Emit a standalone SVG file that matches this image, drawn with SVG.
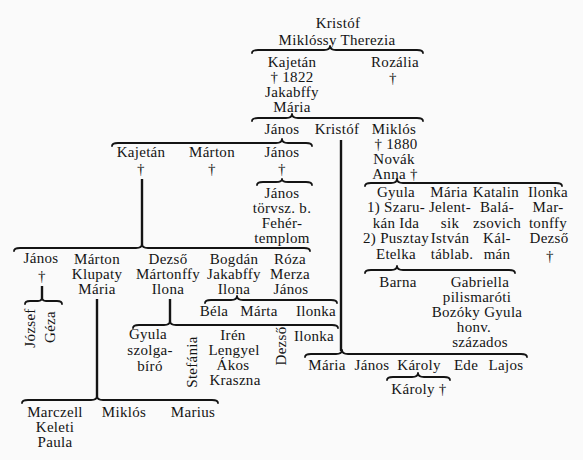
<svg xmlns="http://www.w3.org/2000/svg" width="583" height="460" viewBox="0 0 583 460">
<style>
text{font-family:"Liberation Serif","Times New Roman",serif;font-size:15px;fill:#141414;text-anchor:middle;letter-spacing:0.3px}
.br{fill:none;stroke:#141414;stroke-width:1.8;stroke-linecap:round;stroke-linejoin:round}
.vl{fill:none;stroke:#141414;stroke-width:2.4}
</style>
<rect width="583" height="460" fill="#fafafa"/>
<g id="connectors">
<path class="br" d="M252 53 Q252 50 258 50 L324 50 Q330 50 330 46 Q330 50 336 50 L417 50 Q423 50 423 53"/>
<path class="br" d="M252 121 Q252 118 258 118 L286 118 Q292 118 292 114 Q292 118 298 118 L417 118 Q423 118 423 121"/>
<path class="br" d="M112 146 Q112 143 118 143 L276 143 Q282 143 282 139 Q282 143 288 143 L306 143 Q312 143 312 146"/>
<path class="br" d="M257 185 Q257 182 263 182 L276 182 Q282 182 282 179 Q282 182 288 182 L306 182 Q312 182 312 185"/>
<path class="vl" d="M142 179 V245"/>
<path class="br" d="M14 251 Q14 248 20 248 L136 248 Q142 248 142 244 Q142 248 148 248 L304 248 Q310 248 310 251"/>
<path class="vl" d="M341 140 V351"/>
<path class="br" d="M365 186 Q365 183 371 183 L391 183 Q397 183 397 179 Q397 183 403 183 L556 183 Q562 183 562 186"/>
<path class="br" d="M365 273 Q365 270 371 270 L391 270 Q397 270 397 266 Q397 270 403 270 L509 270 Q515 270 515 273"/>
<path class="br" d="M305 357 Q305 354 311 354 L336 354 Q342 354 342 350 Q342 354 348 354 L521 354 Q527 354 527 357"/>
<path class="br" d="M387 380 Q387 377 393 377 L412 377 Q418 377 418 373 Q418 377 424 377 L444 377 Q450 377 450 380"/>
<path class="vl" d="M42 286 V298"/>
<path class="br" d="M25 304 Q25 301 30 301 L38 301 Q42 301 42 297 Q42 301 46 301 L57 301 Q62 301 62 304"/>
<path class="vl" d="M97 299 V397"/>
<path class="br" d="M22 403 Q22 400 28 400 L91 400 Q97 400 97 396 Q97 400 103 400 L212 400 Q218 400 218 403"/>
<path class="vl" d="M170 299 V322"/>
<path class="br" d="M133 328 Q133 325 139 325 L164 325 Q170 325 170 321 Q170 325 176 325 L332 325 Q338 325 338 328"/>
<path class="br" d="M205 303 Q205 300 211 300 L231 300 Q237 300 237 296 Q237 300 243 300 L331 300 Q337 300 337 303"/>
</g>
<g id="n-kristof-sr"><text x="338" y="28">Kristóf</text><text x="337" y="45">Miklóssy Therezia</text></g>
<g id="n-kajetan-sr"><text x="292" y="67">Kajetán</text><text x="292" y="82">† 1822</text><text x="292" y="97">Jakabffy</text><text x="292" y="112">Mária</text></g>
<g id="n-rozalia"><text x="395" y="67">Rozália</text><text x="393" y="83">†</text></g>
<g id="n-janos-1"><text x="282" y="134">János</text></g>
<g id="n-kristof-2"><text x="337" y="134">Kristóf</text></g>
<g id="n-miklos-2"><text x="394" y="134">Miklós</text><text x="396" y="149">† 1880</text><text x="394" y="164">Novák</text><text x="395" y="179">Anna †</text></g>
<g id="n-kajetan-3"><text x="141" y="157">Kajetán</text><text x="141" y="174">†</text></g>
<g id="n-marton-3"><text x="212" y="157">Márton</text><text x="212" y="174">†</text></g>
<g id="n-janos-3"><text x="282" y="157">János</text><text x="282" y="174">†</text></g>
<g id="n-janos-4"><text x="282" y="198">János</text><text x="282" y="213">törvsz. b.</text><text x="282" y="228">Fehér-</text><text x="282" y="243">templom</text></g>
<g id="n-janos-k"><text x="41" y="263">János</text><text x="42" y="281">†</text></g>
<g id="n-marton-k"><text x="97" y="264">Márton</text><text x="97" y="279">Klupaty</text><text x="97" y="294">Mária</text></g>
<g id="n-dezso-k"><text x="168" y="264">Dezső</text><text x="168" y="279">Mártonffy</text><text x="168" y="294">Ilona</text></g>
<g id="n-bogdan"><text x="234" y="264">Bogdán</text><text x="234" y="279">Jakabffy</text><text x="234" y="294">Ilona</text></g>
<g id="n-roza"><text x="290" y="264">Róza</text><text x="290" y="279">Merza</text><text x="291" y="294">János</text></g>
<g id="n-jozsef"><text transform="translate(35 328) rotate(-90)">József</text></g>
<g id="n-geza"><text transform="translate(55 327) rotate(-90)">Géza</text></g>
<g id="n-bela"><text x="214" y="316">Béla</text></g>
<g id="n-marta"><text x="259" y="316">Márta</text></g>
<g id="n-ilonka-b"><text x="316" y="316">Ilonka</text></g>
<g id="n-gyula-d"><text x="148" y="339">Gyula</text><text x="150" y="355">szolga-</text><text x="150" y="371">bíró</text></g>
<g id="n-stefania"><text transform="translate(197 362) rotate(-90)">Stefánia</text></g>
<g id="n-iren"><text x="233" y="340">Irén</text><text x="234" y="355">Lengyel</text><text x="233" y="370">Ákos</text><text x="235" y="385">Kraszna</text></g>
<g id="n-dezso-d"><text transform="translate(286 346) rotate(-90)">Dezső</text></g>
<g id="n-ilonka-d"><text x="314" y="341">Ilonka</text></g>
<g id="n-marczell"><text x="55" y="417">Marczell</text><text x="55" y="432">Keleti</text><text x="55" y="447">Paula</text></g>
<g id="n-miklos-m"><text x="124" y="417">Miklós</text></g>
<g id="n-marius"><text x="193" y="417">Marius</text></g>
<g id="n-gyula-m"><text x="396" y="197">Gyula</text><text x="396" y="212">1) Szaru-</text><text x="396" y="228">kán Ida</text><text x="396" y="243">2) Pusztay</text><text x="396" y="259">Etelka</text></g>
<g id="n-maria-m"><text x="449" y="197">Mária</text><text x="450" y="212">Jelent-</text><text x="450" y="228">sik</text><text x="450" y="243">István</text><text x="452" y="259">táblab.</text></g>
<g id="n-katalin"><text x="496" y="197">Katalin</text><text x="497" y="212">Balá-</text><text x="497" y="228">zsovich</text><text x="497" y="243">Kál-</text><text x="497" y="259">mán</text></g>
<g id="n-ilonka-m"><text x="548" y="197">Ilonka</text><text x="548" y="212">Mar-</text><text x="548" y="228">tonffy</text><text x="549" y="243">Dezső</text><text x="550" y="261">†</text></g>
<g id="n-barna"><text x="398" y="287">Barna</text></g>
<g id="n-gabriella"><text x="480" y="287">Gabriella</text><text x="477" y="302">pilismaróti</text><text x="477" y="317">Bozóky Gyula</text><text x="474" y="332">honv.</text><text x="480" y="347">százados</text></g>
<g id="n-maria-k"><text x="327" y="370">Mária</text></g>
<g id="n-janos-k2"><text x="372" y="370">János</text></g>
<g id="n-karoly-k"><text x="419" y="370">Károly</text></g>
<g id="n-ede"><text x="466" y="370">Ede</text></g>
<g id="n-lajos"><text x="506" y="370">Lajos</text></g>
<g id="n-karoly-2"><text x="419" y="394">Károly †</text></g>
</svg>
